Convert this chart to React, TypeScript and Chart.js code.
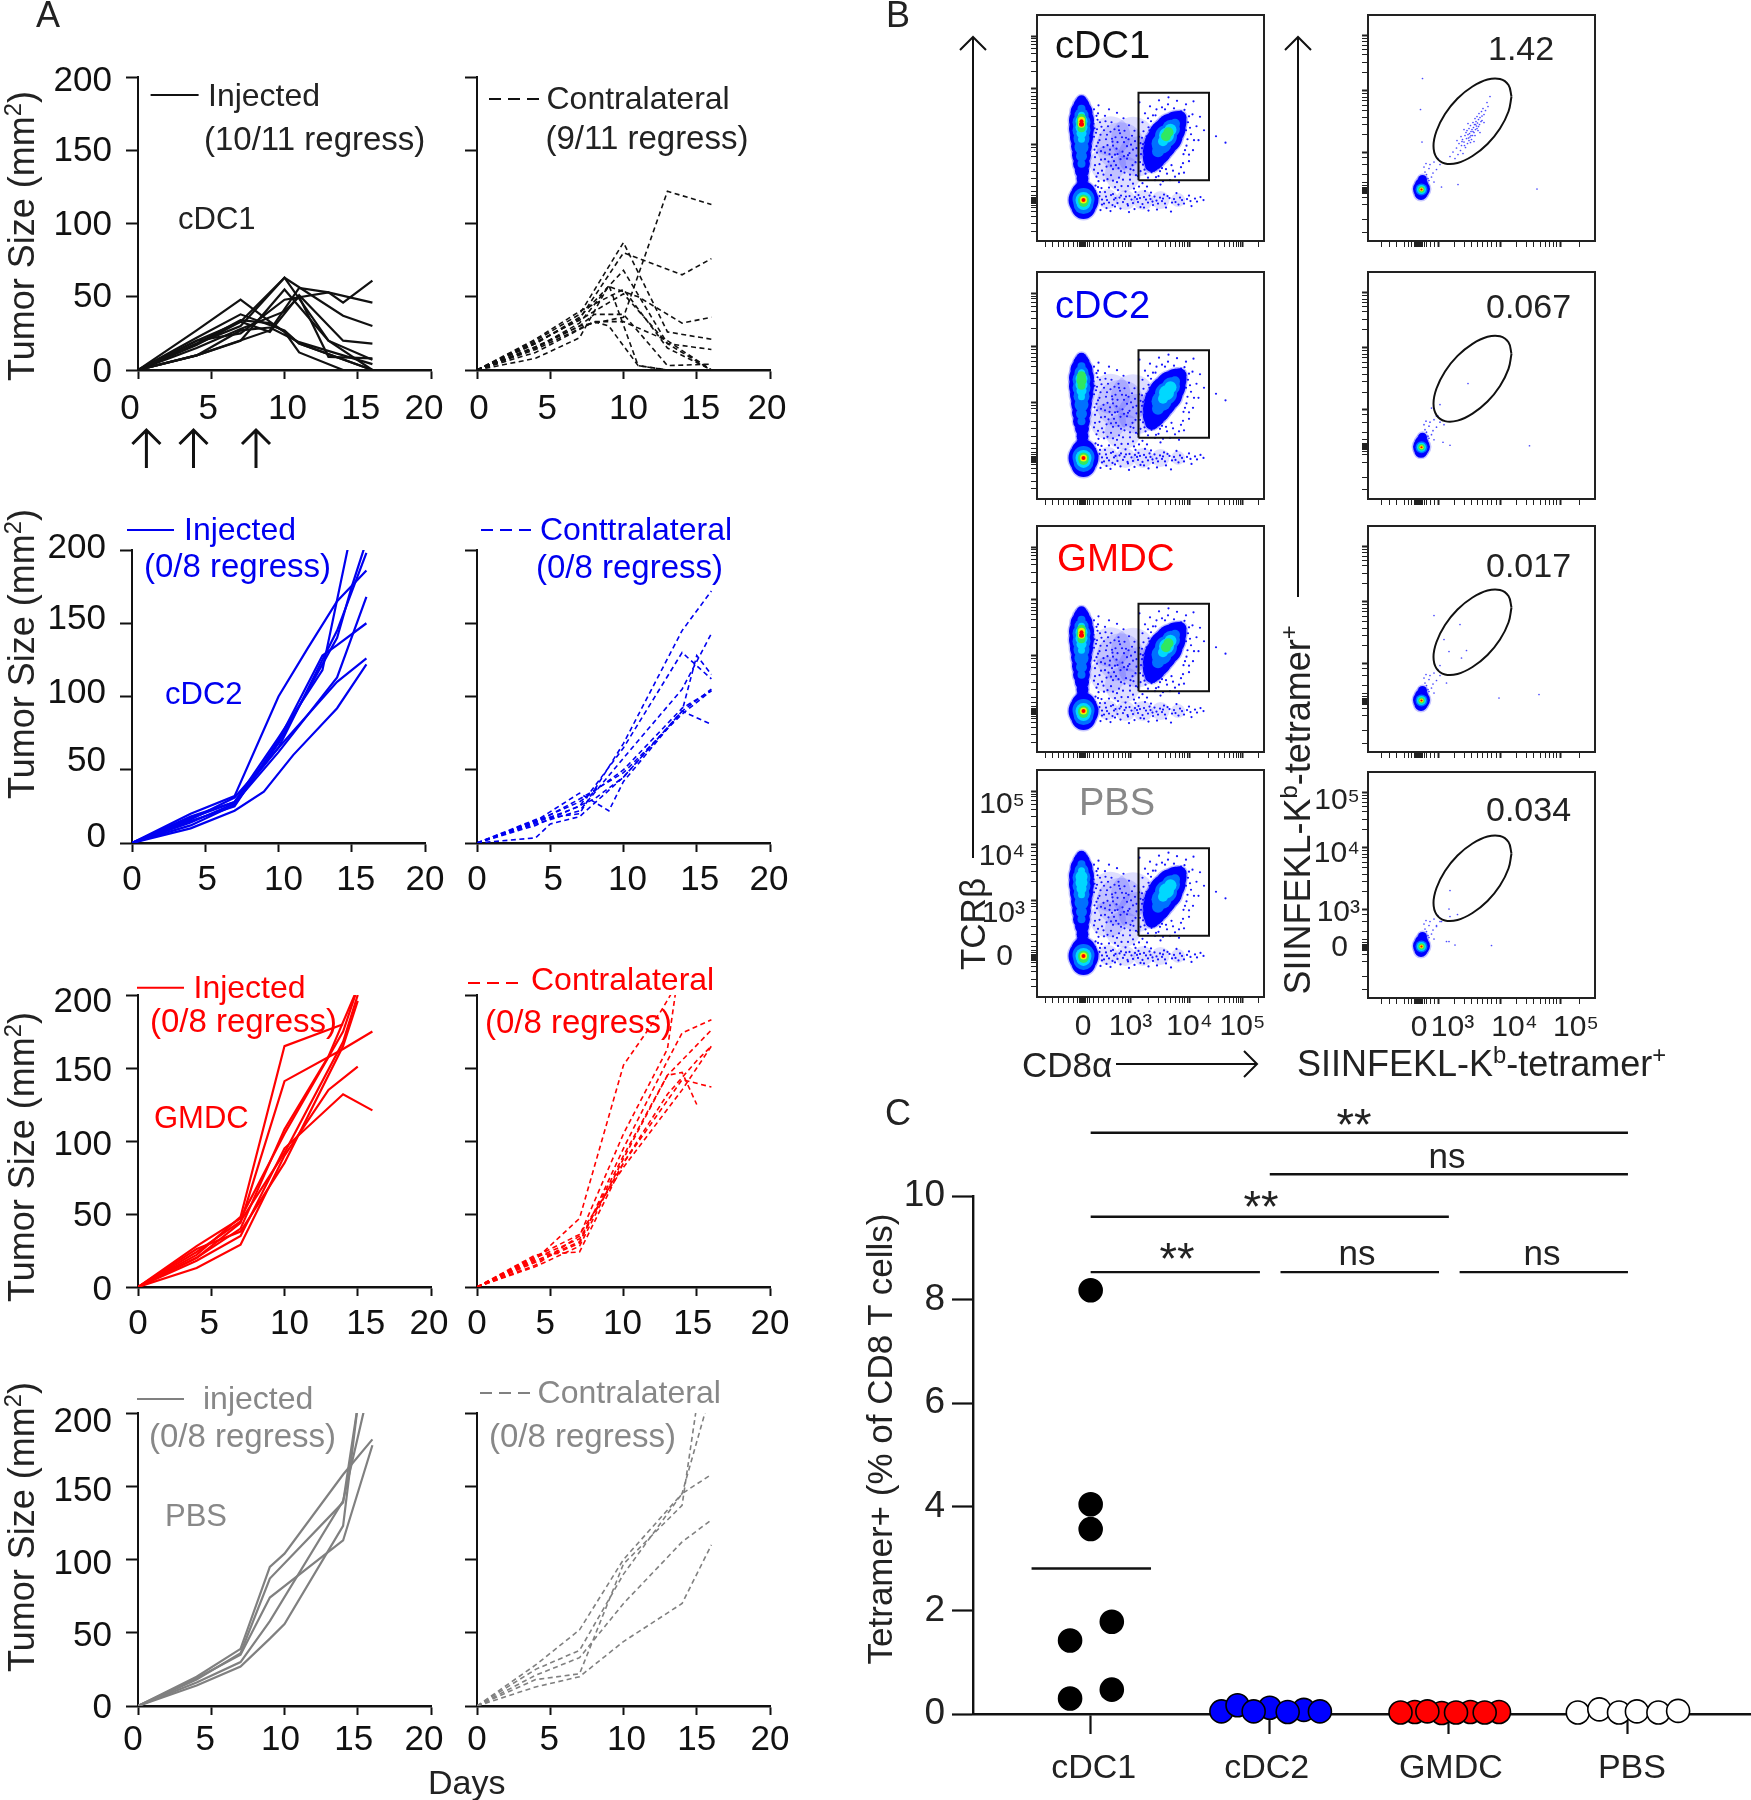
import React, { useEffect, useRef } from "react";
import { Chart, registerables } from "chart.js";

Chart.register(...registerables);

type Pt = number[];
const FONT = '"Liberation Sans", Arial, sans-serif';
const BLUE = "#0000f0";
const RED = "#ff0000";
const GRAY = "#808080";

// ---------- Panel A: tumour curves as [day, size] ----------
const cdc1Injected: Pt[][] = [
  [[0,0],[4,27],[7,48],[9,33],[10,26],[11,18],[16,0]],
  [[0,0],[4,20],[7,33],[10,63],[13,20],[16,7]],
  [[0,0],[4,18],[7,30],[10,63],[14,37],[16,30]],
  [[0,0],[4,10],[7,20],[10,55],[13,20],[16,0]],
  [[0,0],[4,10],[9,27],[11,56],[13,53],[14,46],[16,61]],
  [[0,0],[4,20],[7,25],[10,48],[13,53],[16,46]],
  [[0,0],[4,17],[7,33],[9,26],[11,51],[14,20],[16,18]],
  [[0,0],[4,18],[7,34],[9,32],[10,26],[11,12],[14,0]],
  [[0,0],[4,10],[7,27],[9,29],[11,19],[14,10],[16,4]],
  [[0,0],[4,22],[7,38],[10,27],[11,18],[16,0]],
  [[0,0],[4,15],[7,28],[10,40],[11,50],[13,9],[16,8]],
];
const cdc1Contra: Pt[][] = [
  [[0,0],[4,15],[7,30],[10,36],[13,122],[16,113]],
  [[0,0],[4,18],[7,35],[10,80],[14,65],[16,76]],
  [[0,0],[4,15],[7,32],[9,57],[11,50],[14,32],[16,36]],
  [[0,0],[4,20],[7,38],[10,87],[13,26],[16,21]],
  [[0,0],[4,18],[7,36],[10,68],[13,18],[16,14]],
  [[0,0],[4,16],[7,30],[8,38],[10,38],[13,3],[16,4]],
  [[0,0],[4,8],[7,22],[9,58],[11,3],[13,0],[16,0]],
  [[0,0],[4,14],[8,33],[10,33],[13,20],[16,0]],
  [[0,0],[4,12],[8,33],[9,30],[11,3],[13,0]],
  [[0,0],[4,19],[7,34],[10,52],[13,18],[16,0]],
  [[0,0],[4,21],[7,40],[10,55],[13,15],[16,0]],
];
const cdc2Injected: Pt[][] = [
  [[0,0],[4,20],[7,32],[10,100],[12,133],[14,165],[16,186]],
  [[0,0],[4,18],[7,28],[10,72],[13,118],[15,214]],
  [[0,0],[4,15],[7,25],[10,70],[13,128],[14,135],[16,150]],
  [[0,0],[4,14],[7,27],[10,62],[14,113],[16,168]],
  [[0,0],[4,12],[7,26],[10,68],[14,140],[15,175],[16,206]],
  [[0,0],[4,17],[7,28],[10,65],[14,145],[16,198]],
  [[0,0],[4,16],[7,31],[10,65],[14,110],[16,126]],
  [[0,0],[4,10],[7,22],[9,35],[11,60],[14,92],[16,122]],
];
const cdc2Contra: Pt[][] = [
  [[0,0],[4,3.5],[5,13],[7,18],[10,45],[14,90],[16,105]],
  [[0,0],[4,15],[7,34],[9,22],[10,42],[14,90],[16,81]],
  [[0,0],[4,14],[7,25],[10,65],[14,130],[16,112]],
  [[0,0],[4,16],[7,20],[10,68],[14,145],[16,172]],
  [[0,0],[4,13],[7,22],[10,58],[14,105],[16,143]],
  [[0,0],[4,14],[7,30],[10,48],[14,88],[16,104]],
  [[0,0],[4,12],[8,30],[10,45],[14,90],[15,128],[16,115]],
  [[0,0],[4,15],[7,28],[10,50],[14,92],[16,104]],
];
const gmdcInjected: Pt[][] = [
  [[0,0],[4,22],[7,48],[10,165],[14,180]],
  [[0,0],[4,20],[7,44],[10,141],[14,163],[16,175]],
  [[0,0],[4,13],[7,29],[10,90],[13,135],[15,151]],
  [[0,0],[4,18],[7,35],[10,95],[14,132],[16,121]],
  [[0,0],[4,20],[7,40],[10,108],[13,158],[15,205]],
  [[0,0],[4,24],[7,45],[10,92],[14,168],[15,200]],
  [[0,0],[4,26],[7,38],[10,85],[14,165],[15,196]],
  [[0,0],[4,28],[7,47],[10,105],[14,175],[15,205]],
];
const gmdcContra: Pt[][] = [
  [[0,0],[4,19],[7,47],[10,152],[12.5,188],[13.5,205]],
  [[0,0],[4,15],[7,35],[10,105],[13,163],[13.6,205]],
  [[0,0],[4,17],[7,30],[10,95],[13,155],[14,174],[16,183]],
  [[0,0],[4,18],[7,31],[10,90],[13,145],[16,176]],
  [[0,0],[4,20],[7,33],[10,85],[13,132],[15,155],[16,165]],
  [[0,0],[4,22],[7,24],[10,85],[14,142],[16,137]],
  [[0,0],[4,14],[7,28],[10,88],[13,145],[14,147],[15,125]],
  [[0,0],[4,21],[7,36],[10,82],[14,135],[16,165]],
];
const pbsInjected: Pt[][] = [
  [[0,0],[4,20],[7,39],[9,95],[10,104],[14,158],[16,182]],
  [[0,0],[4,18],[7,36],[9,87],[14,139],[15,205]],
  [[0,0],[4,14],[7,27],[9,46],[10,56],[14,123],[15,205]],
  [[0,0],[4,19],[7,35],[9,74],[14,113],[16,178]],
  [[0,0],[4,16],[7,30],[9,58],[14,140],[15.5,205]],
];
const pbsContra: Pt[][] = [
  [[0,0],[4,13],[7,20],[10,44],[14,70],[16,110]],
  [[0,0],[4,21],[7,33],[10,70],[14,112],[16,127]],
  [[0,0],[4,18],[7,22],[10,97],[14,137],[15,205]],
  [[0,0],[4,25],[7,38],[10,90],[14,145],[16,158]],
  [[0,0],[4,28],[7,52],[10,100],[14,145],[15.7,205]],
];

// ---------- Panel B: flow plots, axis units = tick position ----------
const leftMajorX = [0, 0.95, 2.13, 3.19];
const leftMajorY = [0, 1.13, 2.25, 3.3];
const rightMajorX = [0, 0.39, 1.63, 2.82];
const rightMajorY = [0, 0.75, 1.98, 3.08];
const decadeLabels = ["0", "10\u00b3", "10\u2074", "10\u2075"];
const leftMinorX = [-0.75,-0.62,-0.5,-0.4,-0.3,-0.2,-0.12,-0.08,-0.05,-0.03,-0.01,0.01,0.03,0.05,0.08,0.12,0.2,0.3,0.4,0.5,0.6,0.7,0.78,0.85,0.9,1.3,1.5,1.65,1.75,1.85,1.92,1.98,2.03,2.08,2.5,2.7,2.83,2.93,3.0,3.06,3.1,3.15,3.5];
const leftMinorY = [-0.6,-0.45,-0.3,-0.2,-0.12,-0.08,-0.05,-0.03,-0.01,0.01,0.03,0.05,0.08,0.12,0.2,0.3,0.45,0.6,0.75,0.9,1.0,1.07,1.5,1.7,1.85,1.95,2.03,2.1,2.18,2.6,2.8,2.95,3.05,3.13,3.2,3.25];
const rightMinorX = [-0.75,-0.6,-0.45,-0.3,-0.22,-0.15,-0.1,-0.07,-0.05,-0.03,-0.01,0.01,0.03,0.05,0.07,0.1,0.15,0.22,0.3,0.7,0.9,1.05,1.17,1.27,1.36,1.45,1.55,1.95,2.15,2.3,2.42,2.52,2.6,2.68,2.75,3.2];
const rightMinorY = [-0.85,-0.6,-0.3,-0.15,-0.08,-0.05,-0.03,-0.01,0.01,0.03,0.05,0.08,0.15,0.3,0.5,0.65,1.1,1.3,1.45,1.58,1.68,1.78,1.85,1.92,2.35,2.55,2.7,2.8,2.88,2.95,3.02];

const densityColours = ["#0000ff", "#0070ff", "#00d8ff", "#30e860", "#f0f000", "#ff0000"];

// [x, y, radius] per density level, weakest first
const columnLevels: Pt[][] = [
  [[-0.03,2.02,5],[-0.03,1.92,8],[-0.03,1.78,11],[-0.03,1.62,12.5],[-0.03,1.45,12.5],[-0.03,1.28,11.5],[-0.03,1.1,10.5],[-0.03,0.92,9.5],[-0.03,0.75,8.5],[-0.02,0.6,7],[-0.01,0.45,6],[-0.01,0.32,6]],
  [[-0.03,1.85,4],[-0.03,1.72,7],[-0.03,1.58,9],[-0.03,1.42,9],[-0.03,1.25,8],[-0.03,1.08,7],[-0.03,0.9,5.5],[-0.03,0.75,4]],
  [[-0.03,1.72,3.5],[-0.03,1.6,6],[-0.03,1.48,6],[-0.03,1.36,5],[-0.03,1.24,3.5]],
  [[-0.03,1.66,4.5],[-0.03,1.56,5],[-0.03,1.46,4]],
  [[-0.03,1.62,3.5],[-0.03,1.54,3.5]],
  [[-0.03,1.6,2],[-0.03,1.54,2.5]],
];
const negativeLevels: Pt[][] = [
  [[0.01,0.02,15],[0.01,0.15,12],[0.01,-0.12,12]],
  [[0.01,0.04,11],[0.01,-0.06,10]],
  [[0.01,0.02,8],[0.01,-0.04,7]],
  [[0.01,0.02,5.5],[0.01,-0.02,5]],
  [[0.01,0.02,3.5]],
  [[0.01,0.02,2]],
];
const cd8Levels: Pt[][] = [
  [[1.38,0.72,7],[1.42,0.85,11],[1.48,1.0,14],[1.55,1.15,16],[1.65,1.3,17],[1.75,1.45,15],[1.85,1.58,11],[1.93,1.67,7]],
  [[1.5,1.0,6],[1.57,1.15,10],[1.66,1.3,11],[1.76,1.45,9],[1.84,1.55,5]],
  [[1.6,1.2,5],[1.67,1.32,7.5],[1.75,1.43,6]],
  [[1.66,1.3,5],[1.71,1.38,5]],
];
const hazeBubbles: Pt[] = [[0.55,1.3,20],[0.75,1.1,24],[1.0,1.25,22],[1.1,0.9,20],[0.5,0.75,18],[0.8,0.55,18],[0.5,0.04,10],[0.85,0.02,10],[1.2,0.02,10],[1.55,0.02,9],[1.9,0.02,7]];
const cellSpeckle: Pt[] = [
  [0.31,1.92],[0.52,1.84],[0.44,1.71],[0.68,1.77],[0.29,1.63],[0.57,1.58],[0.81,1.66],[0.37,1.49],[0.63,1.44],[0.92,1.52],[0.26,1.37],[0.48,1.33],[0.74,1.36],[1.03,1.41],[0.33,1.22],[0.59,1.19],[0.86,1.27],[1.12,1.29],[0.41,1.08],[0.67,1.05],[0.96,1.13],[1.18,1.06],[0.28,0.97],[0.53,0.94],[0.79,0.99],[1.07,0.91],[0.36,0.83],[0.62,0.8],[0.88,0.85],[1.14,0.78],[0.47,0.69],[0.71,0.66],[0.99,0.72],[1.23,0.63],[0.3,0.56],[0.56,0.52],[0.83,0.57],[1.1,0.5],[1.3,0.47],[0.42,0.41],[0.68,0.38],[0.94,0.43],[1.19,0.36],[1.44,0.42],[0.25,0.31],[0.52,0.27],[0.77,0.3],[1.02,0.25],[1.28,0.29],[1.55,0.33],
  [0.34,0.18],[0.6,0.14],[0.85,0.19],[1.11,0.12],[1.36,0.17],[1.62,0.13],[1.87,0.16],[2.12,0.11],[0.29,0.06],[0.48,0.02],[0.73,0.07],[0.97,0.03],[1.22,0.08],[1.47,0.01],[1.73,0.06],[1.98,0.02],[2.24,0.05],[2.41,0.02],[0.38,-0.07],[0.64,-0.11],[0.89,-0.06],[1.15,-0.12],[1.4,-0.08],[1.66,-0.13],[1.91,-0.07],[2.17,-0.1],[0.55,-0.2],[0.92,-0.22],[1.31,-0.19],[1.76,-0.21],
  [1.13,1.98],[1.34,1.9],[1.52,2.02],[1.71,2.08],[1.88,2.01],[2.06,1.94],[2.21,2.0],[1.24,1.76],[1.45,1.72],[1.64,1.84],[2.03,1.83],[2.19,1.74],[2.34,1.69],[1.19,1.58],[1.36,1.6],[2.1,1.58],[2.27,1.5],[2.42,1.42],[1.21,1.4],[2.16,1.34],[2.31,1.22],[1.24,1.17],[1.29,1.02],[2.07,1.11],[2.2,1.02],[1.22,0.88],[1.33,0.74],[2.01,0.94],[2.12,0.8],[1.42,0.61],[1.58,0.66],[1.77,0.72],[1.96,0.68],[1.51,0.5],[1.68,0.55],[1.84,0.49],[2.02,0.57],[1.74,0.42],[1.6,0.4],[1.92,0.38],[2.66,1.3],[2.85,1.17],
  [0.31,0.4],[0.24,0.72],[0.27,1.1],[0.23,1.46],[0.3,1.76],[0.24,0.2],[0.45,1.6],[0.71,1.5],[0.58,1.25],[0.82,1.18],[0.64,0.93],[0.93,0.96],[1.01,0.62],[0.6,0.64],[0.44,0.18],[0.7,0.22],[1.05,0.18],[1.24,0.2],[0.62,0.03],[0.86,0.09],[1.1,-0.02],[1.35,0.04],[1.6,0.05],[1.85,-0.02],
];
const cellSpeckleDense: Pt[] = [
  [0.22,1.84],[0.27,1.71],[0.21,1.55],[0.34,1.58],[0.28,1.44],[0.35,1.33],[0.22,1.29],[0.3,1.17],[0.23,1.03],[0.36,1.0],[0.24,0.88],[0.33,0.74],[0.22,0.63],[0.38,0.61],[0.27,0.49],[0.41,0.53],[0.3,0.28],[0.37,0.26],[0.42,1.42],[0.46,1.24],[0.5,1.5],[0.55,1.39],[0.44,0.97],[0.49,1.12],[0.54,1.03],[0.6,1.11],[0.65,1.28],[0.69,1.18],[0.72,1.42],[0.78,1.28],[0.83,1.41],[0.88,1.1],[0.91,1.24],[0.98,1.31],[1.04,1.2],[1.07,1.06],[1.15,1.16],[1.0,1.03],[0.9,0.92],[0.82,0.9],[0.75,0.84],[0.69,0.94],[0.58,0.88],[0.51,0.79],[0.44,0.84],[0.56,0.71],[0.66,0.72],[0.76,0.6],[0.86,0.68],[0.95,0.64],[1.05,0.78],[1.16,0.94],[1.2,0.73],[1.26,0.85],[1.3,1.12],[1.27,1.3],[1.31,1.48],[1.37,1.36],[1.25,0.55],[1.37,0.58],[1.46,0.48],[1.15,0.6],[1.06,0.52],[0.94,0.53],[0.72,0.47],[0.6,0.41],[0.49,0.44],[0.8,0.43],[1.0,0.35],[1.12,0.29],[0.9,0.3],[0.64,0.28],
  [0.33,0.1],[0.38,0.03],[0.42,-0.05],[0.46,0.09],[0.52,-0.03],[0.56,0.12],[0.59,-0.08],[0.65,0.06],[0.69,-0.04],[0.76,0.11],[0.8,-0.02],[0.83,0.04],[0.9,-0.09],[0.93,0.1],[1.0,-0.04],[1.04,0.08],[1.08,0.04],[1.14,0.06],[1.19,-0.06],[1.26,0.03],[1.3,-0.03],[1.33,0.11],[1.39,-0.01],[1.43,0.09],[1.5,-0.05],[1.54,0.07],[1.58,0.0],[1.64,-0.05],[1.69,0.1],[1.78,-0.03],[1.82,0.04],[1.94,0.07],[2.02,-0.05],[2.08,0.04],[2.15,0.0],[2.28,-0.01],[2.35,0.08],[0.75,-0.15],[1.03,-0.16],[1.22,-0.13],[1.48,-0.17],[0.47,-0.14],[0.35,-0.18],
  [1.18,1.27],[1.2,1.14],[1.22,1.0],[1.28,0.66],[1.4,0.7],[1.54,0.6],[1.66,0.64],[1.8,0.61],[1.92,0.55],[2.0,0.76],[2.04,1.02],[2.09,1.24],[2.06,1.42],[2.14,1.47],[2.01,1.62],[1.96,1.8],[1.82,1.86],[1.7,1.94],[1.58,1.88],[1.47,1.84],[1.4,1.72],[1.3,1.66],[1.48,1.55],[1.33,1.42],[1.92,1.72],[2.12,1.7],[2.22,1.22],[2.12,0.93],
];
const boxGate: Pt[] = [[1.11,0.42],[2.52,0.42],[2.52,2.17],[1.11,2.17],[1.11,0.42]];
const ellipseGate: Pt[] = [[1.85,1.86],[1.79,2.09],[1.62,2.21],[1.37,2.2],[1.07,2.06],[0.77,1.82],[0.52,1.51],[0.35,1.17],[0.29,0.87],[0.35,0.64],[0.52,0.52],[0.77,0.53],[1.07,0.67],[1.37,0.91],[1.62,1.22],[1.79,1.56],[1.85,1.86]];

const tetramerLevels: Pt[][] = [
  [[0.05,0.01,8.5],[0.05,0.1,6.5],[0.07,0.2,4.5],[0.04,-0.08,6.5]],
  [[0.05,0,6]],
  [[0.05,0,4.5]],
  [[0.05,0,3.2]],
  [[0.05,0,2]],
  [[0.05,0,1.1]],
];
const tetramerTail: Pt[] = [[0.12,0.35],[0.2,0.42],[0.15,0.3],[0.22,0.5],[0.3,0.55],[0.1,0.45],[0.25,0.25],[0.35,0.4],[0.18,0.22],[0.28,0.33],[0.2,0.18],[0.3,0.15],[0.14,0.52],[0.38,0.62],[0.42,0.5]];
const tetramerCdc1: Pt[] = [
  [0.62,0.66],[0.68,0.75],[0.72,0.62],[0.75,0.83],[0.78,0.7],[0.8,0.92],[0.83,0.78],[0.85,0.88],[0.87,1.0],[0.88,0.72],[0.9,0.95],[0.92,1.08],[0.93,0.84],[0.95,1.02],[0.96,1.18],[0.97,0.92],[0.98,1.1],[1.0,1.22],[1.0,0.98],[1.01,1.12],[1.02,1.05],[1.03,1.28],[1.04,1.16],[1.05,1.0],[1.06,1.2],[1.07,1.08],[1.08,1.34],[1.09,1.24],[1.1,1.14],[1.11,1.3],[1.12,1.42],[1.13,1.2],[1.14,1.36],[1.15,1.27],[1.16,1.46],[1.17,1.33],[1.18,1.18],[1.19,1.4],[1.2,1.52],[1.21,1.3],[1.22,1.44],[1.24,1.36],[1.25,1.56],[1.26,1.47],[1.28,1.62],[1.3,1.5],[1.33,1.58],[1.36,1.74],[1.38,1.66],[1.42,1.86],[0.98,1.32],[0.9,1.2],[0.84,1.06],[1.1,0.96],[1.22,1.14],[1.3,1.34],[0.76,0.98],
  [0.94,1.14],[1.04,1.08],[1.12,1.08],[0.99,1.03],[1.08,1.16],[1.16,1.22],[1.03,0.94],[0.91,0.88],[0.86,0.96],[1.13,1.3],[1.19,1.26],[1.26,1.38],
  [0.07,2.22],[0.03,1.6],[0.06,0.95],[2.36,0.01],[0.78,0.1],[0.45,0.05],
];
const tetramerCdc2: Pt[] = [[0.98,1.27],[0.35,0.62],[0.5,0.45],[0.48,0.1],[0.62,0.04],[2.21,0.03],[0.25,0.78],[0.42,0.85]];
const tetramerGmdc: Pt[] = [[0.82,1.52],[0.6,0.98],[0.95,1.0],[0.85,0.85],[0.5,1.22],[0.42,0.7],[0.55,0.35],[2.4,0.12],[1.6,0.05],[0.3,1.7]];
const tetramerPbs: Pt[] = [[0.62,1.12],[0.6,0.75],[0.62,0.6],[0.77,0.64],[0.45,0.5],[0.35,0.42],[0.55,0.1],[0.72,0.03],[1.45,0.02],[0.6,0.1]];

const flowRows = [
  { top: 15, bottom: 241, gateTail: tetramerCdc1, column: 6, cd8: 4 },
  { top: 272, bottom: 499, gateTail: tetramerCdc2, column: 4, cd8: 3 },
  { top: 526, bottom: 752, gateTail: tetramerGmdc, column: 6, cd8: 4 },
  { top: 770, bottom: 997, gateTail: tetramerPbs, column: 3, cd8: 3 },
];

// ---------- Panel C ----------
const groupNames = ["cDC1", "cDC2", "GMDC", "PBS"];
const cdc1Dots: Pt[] = [[1,8.18],[1,4.05],[1,3.57],[0.885,1.42],[1.118,1.78],[0.885,0.3],[1.118,0.47]];
const cdc2Dots: Pt[] = [[2.0,0.12],[2.19,0.08],[1.73,0.05],[1.82,0.17],[1.91,0.05],[2.1,0.04],[2.28,0.05]];
const gmdcDots: Pt[] = [[2.81,0.04],[2.96,0.02],[3.12,0.04],[3.28,0.04],[2.73,0.03],[2.88,0.05],[3.04,0.03],[3.2,0.03]];
const pbsDots: Pt[] = [[3.72,0.03],[3.84,0.09],[3.95,0.03],[4.05,0.05],[4.17,0.03],[4.28,0.06]];
const meanLine: Pt[] = [[0.67,2.81],[1.337,2.81]];
const sigLines: Pt[][] = [
  [[1.0,11.22],[4.0,11.22]],
  [[2.0,10.42],[4.0,10.42]],
  [[1.0,9.6],[3.0,9.6]],
  [[1.0,8.53],[1.945,8.53]],
  [[2.06,8.53],[2.945,8.53]],
  [[3.06,8.53],[4.0,8.53]],
];
const valueTicks = [0, 2, 4, 6, 8, 10];

// ---------- helpers ----------
const xy = (p: Pt) => ({ x: p[0], y: p[1] });
const xyr = (p: Pt) => ({ x: p[0], y: p[1], r: p[2] });

const frameBox = {
  id: "frameBox",
  afterDatasetsDraw(chart: any) {
    const { ctx, chartArea: a } = chart;
    ctx.save();
    ctx.strokeStyle = "#222";
    ctx.lineWidth = 2;
    ctx.strokeRect(a.left, a.top, a.right - a.left, a.bottom - a.top);
    ctx.restore();
  },
};

// The reference's tick labels were nudged by hand; same nudges here, per label.
type Shift = Record<string, number[]>;
const nudgeLabels = {
  id: "nudgeLabels",
  beforeDraw(chart: any) {
    const shifts = chart.options.plugins.nudgeLabels || {};
    ["x", "y"].forEach((k) => {
      const scale = chart.scales[k];
      const table: Shift | undefined = shifts[k];
      if (!scale || !table || !scale._computeLabelItems) return;
      const items = scale._computeLabelItems(chart.chartArea);
      items.forEach((it: any) => {
        const d = table[String(it.label)];
        if (d && it.options && it.options.translation) {
          it.options.translation[0] += d[0];
          it.options.translation[1] += d[1];
        }
      });
      scale._labelItems = items;
    });
  },
};

// Keep each plot area exactly where the margins put it.
const fitHeight = (h: number) => (s: any) => { s.height = h; s.paddingLeft = 0; s.paddingRight = 0; };
const fitWidth = (w: number) => (s: any) => { s.width = w; s.paddingTop = 0; s.paddingBottom = 0; };

type Box = { left: number; top: number; width: number; height: number; ml: number; mt: number; mr: number; mb: number };

function boxOf(left: number, top: number, right: number, bottom: number, ml: number, mt: number, mr: number, mb: number): Box {
  return { left, top, width: right - left, height: bottom - top, ml, mt, mr, mb };
}

function place(canvas: HTMLCanvasElement, b: Box) {
  canvas.width = Math.round(b.width + b.ml + b.mr);
  canvas.height = Math.round(b.height + b.mt + b.mb);
  canvas.style.position = "absolute";
  canvas.style.left = `${b.left - b.ml}px`;
  canvas.style.top = `${b.top - b.mt}px`;
}

const baseOptions = (b: Box, shifts: any) => ({
  responsive: false,
  animation: false as const,
  events: [] as string[],
  layout: { autoPadding: false, padding: { top: b.mt, right: b.mr, left: 0, bottom: 0 } },
  plugins: { legend: { display: false }, tooltip: { enabled: false }, nudgeLabels: shifts },
});

function lineChart(canvas: HTMLCanvasElement, b: Box, curves: Pt[][], colour: string, dashed: boolean, labelGap: number, showY: boolean, shifts: any) {
  place(canvas, b);
  return new Chart(canvas, {
    type: "line",
    data: {
      datasets: curves.map((c) => ({
        data: c.map(xy),
        borderColor: colour,
        borderWidth: dashed ? 1.6 : 2.2,
        borderDash: dashed ? [5, 3.5] : [],
        pointRadius: 0,
        tension: 0,
      })),
    },
    options: {
      ...baseOptions(b, shifts),
      scales: {
        x: {
          type: "linear", min: 0, max: 20,
          afterFit: fitHeight(b.mb),
          border: { color: "#111", width: 2.4 },
          grid: { drawOnChartArea: false, tickLength: 9, tickColor: "#111", tickWidth: 2 },
          ticks: { stepSize: 5, padding: labelGap, maxRotation: 0, font: { family: FONT, size: 35 }, color: "#111" },
        },
        y: {
          min: 0, max: 200,
          afterFit: fitWidth(b.ml),
          border: { color: "#111", width: 2 },
          grid: { drawOnChartArea: false, tickLength: 12, tickColor: "#111", tickWidth: 2 },
          ticks: { stepSize: 50, padding: 14, display: showY, font: { family: FONT, size: 35 }, color: "#111" },
        },
      },
    } as any,
    plugins: [nudgeLabels],
  });
}

function flowAxis(major: number[], minor: number[], min: number, max: number, showLabels: boolean, fit: (s: any) => void) {
  return {
    type: "linear", min, max,
    afterFit: fit,
    afterBuildTicks: (s: any) => {
      s.ticks = [...major, ...minor].map((value) => ({ value }));
    },
    border: { color: "#222", width: 2 },
    grid: {
      drawOnChartArea: false, tickLength: 6,
      tickColor: "#222",
      tickWidth: (c: any) => (major.includes(c.tick?.value) ? 2 : 1),
    },
    ticks: {
      autoSkip: false, maxRotation: 0, padding: 6, display: showLabels,
      font: { family: FONT, size: 30 }, color: "#222",
      callback: (v: number) => { const i = major.indexOf(v); return i >= 0 ? decadeLabels[i] : ""; },
    },
  };
}

function densityDatasets(levels: Pt[][], upTo: number) {
  return levels.slice(0, upTo).map((layer, i) => ({
    type: "bubble" as const,
    data: layer.map(xyr),
    backgroundColor: densityColours[i],
    borderColor: i === 0 ? "rgba(0,0,255,0.22)" : "transparent",
    borderWidth: i === 0 ? 3 : 0,
  }));
}

function flowChart(canvas: HTMLCanvasElement, b: Box, right: boolean, row: any, shifts: any, last: boolean) {
  place(canvas, b);
  const haze = {
    type: "bubble" as const, data: hazeBubbles.map(xyr),
    backgroundColor: "rgba(0,0,255,0.13)", borderWidth: 0,
  };
  const dots = (pts: Pt[], colour: string, radius: number) => ({
    type: "scatter" as const, data: pts.map(xy),
    backgroundColor: colour, borderWidth: 0, pointRadius: radius, showLine: false,
  });
  const gate = (pts: Pt[], tension: number) => ({
    type: "line" as const, data: pts.map(xy), borderColor: "#111", borderWidth: 2,
    pointRadius: 0, tension, fill: false,
  });
  const sets: any[] = right
    ? [
        dots(tetramerTail, "#4a4aff", 0.85), dots(row.gateTail, "#4a4aff", 0.85),
        ...densityDatasets(tetramerLevels, 6),
        gate(ellipseGate, 0.4),
      ]
    : [
        haze, dots(cellSpeckle, "#1414ff", 1.1), dots(cellSpeckleDense, "#1414ff", 1.1),
        ...densityDatasets(cd8Levels, row.cd8),
        ...densityDatasets(columnLevels, row.column),
        ...densityDatasets(negativeLevels, 6),
        gate(boxGate, 0),
      ];
  sets.forEach((s, i) => { s.order = -i; });
  return new Chart(canvas, {
    type: "bubble",
    data: { datasets: sets },
    options: {
      ...baseOptions(b, shifts),
      scales: right
        ? {
            x: flowAxis(rightMajorX, rightMinorX, -1.02, 3.52, last, fitHeight(b.mb)),
            y: flowAxis(rightMajorY, rightMinorY, -1.03, 3.49, last, fitWidth(b.ml)),
          }
        : {
            x: flowAxis(leftMajorX, leftMinorX, -0.92, 3.62, last, fitHeight(b.mb)),
            y: flowAxis(leftMajorY, leftMinorY, -0.8, 3.73, last, fitWidth(b.ml)),
          },
    } as any,
    plugins: [frameBox, nudgeLabels],
  });
}

function dotChart(canvas: HTMLCanvasElement, b: Box) {
  place(canvas, b);
  const dots = (pts: Pt[], fill: string) => ({
    type: "scatter" as const, data: pts.map(xy), backgroundColor: fill,
    borderColor: "#000", borderWidth: 1.6, pointRadius: 11.5, showLine: false, clip: false,
  });
  const rule = (pts: Pt[]) => ({
    type: "line" as const, data: pts.map(xy), borderColor: "#111", borderWidth: 2.4,
    pointRadius: 0, clip: false,
  });
  const sets: any[] = [
    rule(meanLine), ...sigLines.map(rule),
    dots(cdc1Dots, "#000"), dots(cdc2Dots, "#0000ff"), dots(gmdcDots, "#ff0000"), dots(pbsDots, "#fff"),
  ];
  sets.forEach((s, i) => { s.order = -i; });
  return new Chart(canvas, {
    type: "scatter",
    data: { datasets: sets },
    options: {
      ...baseOptions(b, { x: { cDC1: [3, 0], cDC2: [-3, 0], GMDC: [2, 0], PBS: [4, 0] } }),
      scales: {
        x: {
          type: "linear", min: 0.343, max: 4.687,
          afterFit: fitHeight(b.mb),
          afterBuildTicks: (s: any) => { s.ticks = groupNames.map((_, i) => ({ value: i + 1 })); },
          border: { color: "#111", width: 2.4 },
          grid: { drawOnChartArea: false, tickLength: 20, tickColor: "#111", tickWidth: 2.2 },
          ticks: {
            autoSkip: false, maxRotation: 0, padding: 14,
            font: { family: FONT, size: 34 }, color: "#222",
            callback: (v: number) => groupNames[v - 1] ?? "",
          },
        },
        y: {
          min: 0, max: 10,
          afterFit: fitWidth(b.ml),
          afterBuildTicks: (s: any) => { s.ticks = valueTicks.map((value) => ({ value })); },
          border: { color: "#111", width: 2.4 },
          grid: { drawOnChartArea: false, tickLength: 21, tickColor: "#111", tickWidth: 2.2 },
          ticks: { padding: 7, font: { family: FONT, size: 37 }, color: "#222" },
        },
      },
    } as any,
    plugins: [nudgeLabels],
  });
}

// ---------- text and decoration ----------
type LabelProps = { x: number; y: number; size?: number; colour?: string; centre?: boolean; rotate?: boolean; children: React.ReactNode };

function Label({ x, y, size = 33, colour = "#222", centre, rotate, children }: LabelProps) {
  const transform = rotate
    ? "translate(-50%,-50%) rotate(-90deg)"
    : centre ? "translate(-50%,-50%)" : "translateY(-50%)";
  return (
    <div style={{ position: "absolute", left: x, top: y, fontSize: size, color: colour, lineHeight: 1, whiteSpace: "nowrap", transform, fontFamily: FONT }}>
      {children}
    </div>
  );
}
const Sup = ({ children }: { children: React.ReactNode }) => (
  <span style={{ fontSize: "66%", position: "relative", top: "-0.55em", lineHeight: 0 }}>{children}</span>
);
const Key = ({ x, y, w, colour, dashed }: { x: number; y: number; w: number; colour: string; dashed?: boolean }) => (
  <line x1={x} x2={x + w} y1={y} y2={y} stroke={colour} strokeWidth={2} strokeDasharray={dashed ? "12 7" : undefined} />
);
const ArrowV = ({ x, y1, y2, head = 13, w = 2 }: { x: number; y1: number; y2: number; head?: number; w?: number }) => (
  <path d={`M${x} ${y2}L${x} ${y1}M${x - head} ${y1 + head}L${x} ${y1}L${x + head} ${y1 + head}`} stroke="#111" strokeWidth={w} fill="none" />
);

const TumorTitle = ({ y }: { y: number }) => (
  <Label x={22} y={y} size={36} rotate>Tumor Size (mm<Sup>2</Sup>)</Label>
);
const tetramerText = <>SIINFEKL-K<Sup>b</Sup>-tetramer<Sup>+</Sup></>;

const xNames = ["0", "5", "10", "15", "20"];
const yNames = ["0", "50", "100", "150", "200"];
const shiftTable = (xd: number[], yd: number[]) => ({
  x: Object.fromEntries(xNames.map((n, i) => [n, [xd[i], 0]])),
  y: Object.fromEntries(yNames.map((n, i) => [n, [0, yd[i]]])),
});

const lineGeometry = [
  { top: 77.3, bottom: 370, lx: [137.6, 430.4], rx: [476.5, 769.4], gap: 9, curves: [cdc1Injected, cdc1Contra], colour: "#111",
    lShift: shiftTable([-8, -3, 3, 3, -7], [2, 1, 2, 1, 4]), rShift: shiftTable([2, -3, 5, 4, -3], [0, 0, 0, 0, 0]) },
  { top: 550, bottom: 842.7, lx: [132.3, 425.2], rx: [477, 769.9], gap: 7, curves: [cdc2Injected, cdc2Contra], colour: BLUE,
    lShift: shiftTable([0, 2, 5, 4, 0], [-6, -8, -3, -4, -2]), rShift: shiftTable([0, 3, 4, 3, -1], [0, 0, 0, 0, 0]) },
  { top: 995, bottom: 1287, lx: [137.6, 430.4], rx: [477, 769.9], gap: 7, curves: [gmdcInjected, gmdcContra], colour: RED,
    lShift: shiftTable([0, -2, 5, 8, -2], [3, 2, 4, 3, 7]), rShift: shiftTable([0, -5, -1, -4, 0], [0, 0, 0, 0, 0]) },
  { top: 1413, bottom: 1706, lx: [137.6, 430.4], rx: [477, 769.9], gap: 4, curves: [pbsInjected, pbsContra], colour: GRAY,
    lShift: shiftTable([-5, -6, -4, -4, -7], [2, 4, 5, 5, 9]), rShift: shiftTable([0, -1, 3, 0, 0], [0, 0, 0, 0, 0]) },
];
const leftFlowShift = { y: { "0": [-12, 0], "10\u00b3": [0, 13], "10\u2074": [0, 13], "10\u2075": [0, 13] } };
const rightFlowShift = {
  x: { "10\u00b3": [14, 0], "10\u2074": [14, 0], "10\u2075": [16, 0] },
  y: { "0": [-8, 1], "10\u00b3": [4, 4], "10\u2074": [4, 6], "10\u2075": [4, 8] },
};

export default function App() {
  const holder = useRef<HTMLDivElement>(null);

  useEffect(() => {
    const host = holder.current!;
    const charts: Chart[] = [];
    const add = () => {
      const c = document.createElement("canvas");
      host.appendChild(c);
      return c;
    };
    lineGeometry.forEach((g) => {
      charts.push(lineChart(add(), boxOf(g.lx[0], g.top, g.lx[1], g.bottom, 100, 26, 34, 56), g.curves[0], g.colour, false, g.gap, true, g.lShift));
      charts.push(lineChart(add(), boxOf(g.rx[0], g.top, g.rx[1], g.bottom, 40, 26, 34, 56), g.curves[1], g.colour, true, g.gap, false, g.rShift));
    });
    flowRows.forEach((row, i) => {
      const last = i === flowRows.length - 1;
      charts.push(flowChart(add(), boxOf(1036.5, row.top, 1263.5, row.bottom, 70, 8, 30, 50), false, row, leftFlowShift, last));
      charts.push(flowChart(add(), boxOf(1368, row.top + (last ? 2 : 0), 1595, row.bottom + (last ? 1 : 0), 70, 8, 30, 50), true, row, rightFlowShift, last));
    });
    charts.push(dotChart(add(), boxOf(973.4, 1195.5, 1751, 1713.6, 100, 100, 0, 75)));
    return () => {
      charts.forEach((c) => c.destroy());
      host.innerHTML = "";
    };
  }, []);

  return (
    <div style={{ position: "absolute", left: 0, top: 0, width: 1751, height: 1800, overflow: "hidden", background: "#fff", fontFamily: FONT }}>
      <div ref={holder} />
      <svg width={1751} height={1800} style={{ position: "absolute", left: 0, top: 0, pointerEvents: "none" }}>
        <Key x={150.6} y={95} w={48} colour="#111" />
        <Key x={489} y={99} w={50} colour="#111" dashed />
        <Key x={127} y={530} w={47} colour={BLUE} />
        <Key x={481} y={530} w={50} colour={BLUE} dashed />
        <Key x={137} y={987.7} w={47} colour={RED} />
        <Key x={468} y={983} w={50} colour={RED} dashed />
        <Key x={137} y={1399} w={47} colour={GRAY} />
        <Key x={480} y={1393} w={50} colour={GRAY} dashed />
        <ArrowV x={146.4} y1={430} y2={468} head={14} w={3} />
        <ArrowV x={193.5} y1={430} y2={468} head={14} w={3} />
        <ArrowV x={256} y1={430} y2={468} head={14} w={3} />
        <ArrowV x={973} y1={37} y2={858} />
        <ArrowV x={1298} y1={37} y2={597} />
        <path d="M1116 1064L1257 1064M1244 1051L1257 1064L1244 1077" stroke="#111" strokeWidth={2} fill="none" />
      </svg>

      <Label x={36} y={15} size={36}>A</Label>
      <Label x={886} y={15} size={36}>B</Label>
      <Label x={885} y={1113} size={36}>C</Label>

      <TumorTitle y={236} />
      <TumorTitle y={654} />
      <TumorTitle y={1157} />
      <TumorTitle y={1527} />

      <Label x={208} y={95} size={32}>Injected</Label>
      <Label x={204} y={138}>(10/11 regress)</Label>
      <Label x={178} y={218} size={31}>cDC1</Label>
      <Label x={546.5} y={98} size={32}>Contralateral</Label>
      <Label x={545.5} y={137}>(9/11 regress)</Label>

      <Label x={184} y={529} size={32} colour={BLUE}>Injected</Label>
      <Label x={144} y={565} colour={BLUE}>(0/8 regress)</Label>
      <Label x={165} y={693} size={31} colour={BLUE}>cDC2</Label>
      <Label x={540} y={529} size={32} colour={BLUE}>Conttralateral</Label>
      <Label x={536} y={566} colour={BLUE}>(0/8 regress)</Label>

      <Label x={193.5} y={987} size={32} colour={RED}>Injected</Label>
      <Label x={150} y={1020} colour={RED}>(0/8 regress)</Label>
      <Label x={154} y={1117} size={31} colour={RED}>GMDC</Label>
      <Label x={531} y={979} size={32} colour={RED}>Contralateral</Label>
      <Label x={485} y={1021} colour={RED}>(0/8 regress)</Label>

      <Label x={203} y={1398} size={32} colour="#888">injected</Label>
      <Label x={149} y={1435} colour="#888">(0/8 regress)</Label>
      <Label x={165} y={1515} size={31} colour="#888">PBS</Label>
      <Label x={537.6} y={1392} size={32} colour="#888">Contralateral</Label>
      <Label x={489} y={1435} colour="#888">(0/8 regress)</Label>
      <Label x={428} y={1782} size={34}>Days</Label>

      <Label x={1055} y={45} size={38} colour="#111">cDC1</Label>
      <Label x={1055} y={305} size={38} colour={BLUE}>cDC2</Label>
      <Label x={1057} y={558} size={38.5} colour={RED}>GMDC</Label>
      <Label x={1079} y={802} size={38} colour="#888">PBS</Label>
      <Label x={1488} y={47.5} size={34}>1.42</Label>
      <Label x={1486} y={306} size={34}>0.067</Label>
      <Label x={1486} y={565} size={34}>0.017</Label>
      <Label x={1486} y={809} size={34}>0.034</Label>
      <Label x={972} y={924} size={35} rotate>TCRβ</Label>
      <Label x={1298} y={810} size={36} rotate>{tetramerText}</Label>
      <Label x={1022} y={1064} size={35}>CD8α</Label>
      <Label x={1297} y={1064} size={36}>{tetramerText}</Label>

      <Label x={879} y={1439} size={35} rotate>Tetramer+ (% of CD8 T cells)</Label>
      <Label x={1354} y={1124} size={45} centre>**</Label>
      <Label x={1447} y={1155} size={35} centre>ns</Label>
      <Label x={1261} y={1206} size={45} centre>**</Label>
      <Label x={1177} y={1258} size={45} centre>**</Label>
      <Label x={1357} y={1252} size={35} centre>ns</Label>
      <Label x={1542} y={1252} size={35} centre>ns</Label>
    </div>
  );
}
